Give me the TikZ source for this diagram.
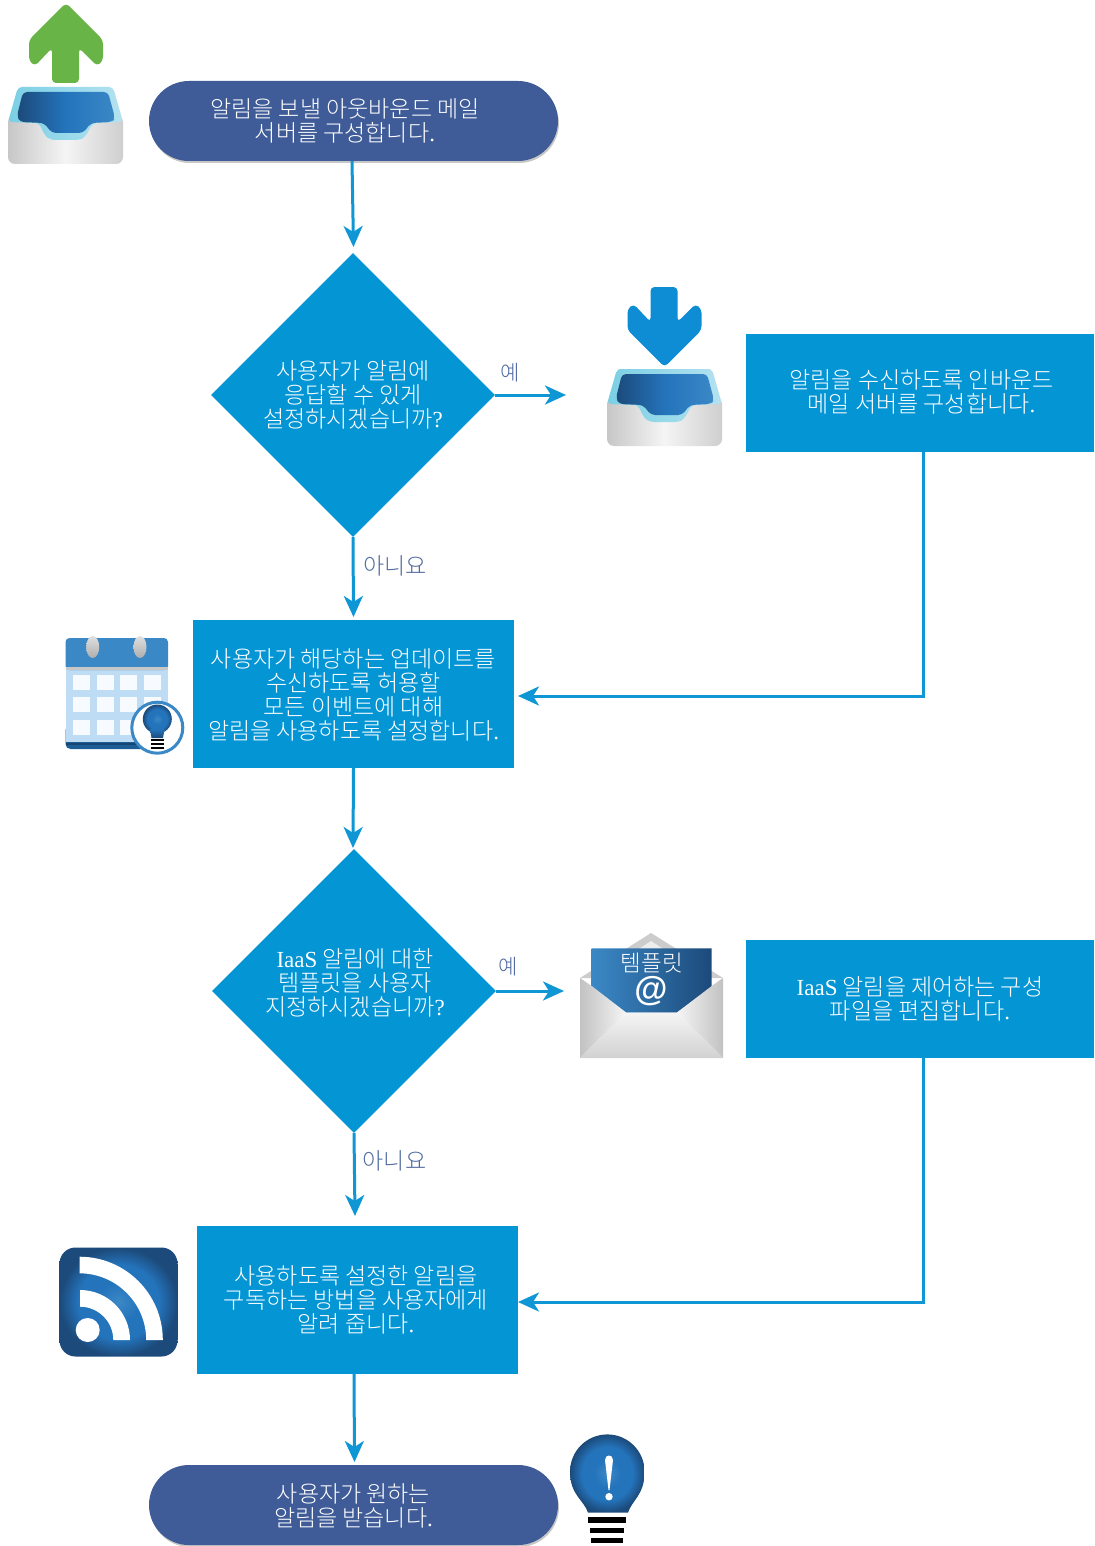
\documentclass[tikz,border=0pt]{standalone}
\usepackage{fontspec}
\setmainfont{Noto Sans CJK KR Light}
\newfontfamily\lat{Liberation Serif}
\newfontfamily\lats{Liberation Sans}
\usetikzlibrary{arrows.meta,shapes.geometric}
\definecolor{boxc}{HTML}{0495D5}
\definecolor{pillc}{HTML}{3F5C98}
\definecolor{linec}{HTML}{0F97D5}
\definecolor{labc}{HTML}{4F6AA0}
\definecolor{bluea}{HTML}{1C4A7A}
\definecolor{blueb}{HTML}{2474BC}
\definecolor{bluec}{HTML}{3B88C6}
\definecolor{cyana}{HTML}{7ACFE4}
\definecolor{cyanb}{HTML}{B4E2F0}
\definecolor{greena}{HTML}{68B446}
\definecolor{downa}{HTML}{0E8CD4}
\definecolor{cellc}{HTML}{F7FBFF}
\definecolor{calc}{HTML}{BEDCF3}
\pgfdeclareradialshading{glow}{\pgfpoint{0bp}{0bp}}{color(0bp)=(bluec);color(9bp)=(blueb);color(17bp)=(blueb);color(25bp)=(bluea);color(50bp)=(bluea)}
\newcommand{\La}[1]{{\lat #1}}
\tikzset{
 x=1pt,y=-1pt,
 txt/.style={text=white,align=center,font=\fontsize{23}{24}\selectfont,inner sep=0pt},
 boxn/.style={txt,fill=boxc,minimum width=#1,minimum height=118pt},
 pilln/.style={txt,fill=pillc,rounded corners=40pt,minimum width=409pt,minimum height=80pt},
 dia/.style={txt,diamond,aspect=1,fill=boxc,minimum width=284pt,minimum height=284pt},
 lab/.style={text=labc,font=\fontsize{23}{24}\selectfont,inner sep=0pt},
 laby/.style={text=labc,font=\fontsize{21}{24}\selectfont,inner sep=0pt},
 conn/.style={draw=linec,line width=3pt,-{Stealth[length=21pt,width=19pt,inset=6pt]}},
 pillshadow/.style={fill=black,opacity=0.22,rounded corners=40pt},
 inbox/.pic={
  \shade[rounded corners=7pt,left color=black!22,right color=black!19,middle color=white!96!black] (8,115)--(123,115)--(123,164)--(8,164)--cycle;
  \shade[left color=cyana,right color=cyanb,rounded corners=4pt] (23,87)--(108,87)--(113,87)--(123,122)--(93,123)--(85,137)--(80,140)--(51,140)--(45,136)--(39,123)--(8,122)--(18,87)--cycle;
  \shade[left color=bluea,right color=bluec,middle color=blueb,rounded corners=4pt] (23,92)--(108,92)--(115,118)--(112,122)--(91,123)--(83,133)--(52,133)--(44,123)--(20,122)--(17,116)--cycle;
 },
}
\begin{document}
\begin{tikzpicture}
\useasboundingbox (0,0) rectangle (1094,1546);
\fill[white] (0,0) rectangle (1094,1546);
% nodes
\fill[pillshadow] (150,84) rectangle (559,163);
\node[pilln] (p1) at (353.5,121) {};
\node[txt] (p1t) at (345,120.5) {알림을 보낼 아웃바운드 메일\\서버를 구성합니다\La{.}};
\node[dia] (d1) at (353,395) {사용자가 알림에\\응답할 수 있게\\설정하시겠습니까\La{?}};
\node[boxn=348pt] (b1) at (920,393) {};
\node[txt] (b1t) at (921.5,392) {알림을 수신하도록 인바운드\\메일 서버를 구성합니다\La{.}};
\node[boxn=321pt,minimum height=148pt] (b2) at (353.5,694) {};
\node[txt] (b2t) at (353.5,695) {사용자가 해당하는 업데이트를\\수신하도록 허용할\\모든 이벤트에 대해\\알림을 사용하도록 설정합니다\La{.}};
\node[dia] (d2) at (354,991) {};
\node[txt] (d2t) at (355,982.5) {\La{IaaS} 알림에 대한\\템플릿을 사용자\\지정하시겠습니까\La{?}};
\node[boxn=348pt] (b3) at (920,999) {\La{IaaS} 알림을 제어하는 구성\\파일을 편집합니다\La{.}};
\node[boxn=321pt,minimum height=148pt] (b4) at (357.5,1300) {};
\node[txt] (b4t) at (356,1300) {사용하도록 설정한 알림을\\구독하는 방법을 사용자에게\\알려 줍니다\La{.}};
\fill[pillshadow] (150,1468) rectangle (559,1547);
\node[pilln] (p2) at (353.5,1505) {};
\node[txt] (p2t) at (353.5,1506) {사용자가 원하는\\알림을 받습니다\La{.}};
% free ends
\coordinate (e1) at (566,395);
\coordinate (e2) at (564,991);
\coordinate (j1) at (923,696);
\coordinate (j2) at (923,1302);
\coordinate (t1) at (353.5,247);
\coordinate (t2) at (353.5,617);
\coordinate (t3) at (353,848);
\coordinate (t4) at (355,1216);
\coordinate (t5) at (354.5,1462);
\coordinate (h1) at (518,696);
\coordinate (h2) at (518,1302);
% connectors
\draw[conn] ([xshift=-1.5pt]p1.south) -- (t1);
\draw[conn] (d1.south) -- (t2);
\draw[conn] (d1.east) -- (e1);
\draw[conn] (b1.south -| j1) -- (j1) -- (h1);
\draw[conn] (b2.south) -- (t3);
\draw[conn] (d2.east) -- (e2);
\draw[conn] (d2.south) -- (t4);
\draw[conn] (b3.south -| j2) -- (j2) -- (h2);
\draw[conn] ([xshift=-3.5pt]b4.south) -- (t5);
% labels
\node[laby] (l1) at (510,372.5) {예};
\node[lab] (l2) at (395,565.5) {아니요};
\node[laby] (l3) at (508.5,966.5) {예};
\node[lab] (l4) at (394.5,1160.5) {아니요};
% outbox icon
\pic at (0,0) {inbox};
\fill[fill=greena,rounded corners=4pt] (66,3)--(103,40)--(103,61)--(97,66)--(79,48)--(79,83)--(52,83)--(52,48)--(35,66)--(29,61)--(29,40)--cycle;
% inbox icon
\pic at (599,282) {inbox};
\fill[fill=downa,rounded corners=4pt] (664.5,367)--(701.5,330)--(701.5,309)--(695.5,304)--(677.5,322)--(677.5,287)--(650.5,287)--(650.5,322)--(633.5,304)--(627.5,309)--(627.5,330)--cycle;
% calendar
\fill[fill=blueb!80!black,rounded corners=5pt] (65.5,725) rectangle (168,749);
\fill[fill=blueb!60!black] (65.5,743) rectangle (168,745);
\fill[fill=calc] (65.5,668) rectangle (168,742);
\fill[bluec,rounded corners=4pt] (65.5,670) -- (65.5,638) -- (168,638) -- (168,670) -- cycle;
\fill[black!22] (65.5,667) rectangle (168,670);
\foreach \x in {92.7,140}{\shade[top color=black!12,bottom color=black!32] (\x,647) ellipse (6.5 and 11);}
\foreach \xa/\xb in {72.7/90,96.7/114,120/137,144/161}{
 \foreach \ya/\yb in {675/690,697/712,720/735}{\fill[cellc] (\xa,\ya) rectangle (\xb,\yb);}}
\fill[white,draw=bluec,line width=3pt] (157.3,727.7) circle (25.5);
\shade[shading=glow] (157.3,719) circle (14.5);
\shade[top color=blueb,bottom color=bluea] (150,729) -- (164.6,729) -- (163,738) -- (151.5,738) -- cycle;
\foreach \y in {738.5,742.5,746.5}{\fill[black] (150.5,\y) rectangle (164,\y+2.5);}
% envelope
\fill[black!20] (651,933) -- (723,978) -- (580,978) -- cycle;
\fill[black!7] (651,941) -- (708,978) -- (595,978) -- cycle;
\shade[left color=bluec,right color=bluea] (591.7,948.3) -- (711.7,948.3) -- (711.7,986.7) -- (677,1012.5) -- (626,1012.5) -- (591.7,986.7) -- cycle;
\shade[left color=black!24,right color=black!4] (580,978) -- (591.7,986) -- (626,1012.5) -- (580,1058) -- cycle;
\shade[left color=black!4,right color=black!24] (723,978) -- (711.7,986) -- (677,1012.5) -- (723,1058) -- cycle;
\shade[top color=white!96!black,bottom color=black!18] (626,1012.5) -- (677,1012.5) -- (723,1058) -- (580,1058) -- cycle;
\node[txt,font=\fontsize{22.5}{24}\selectfont] (ic1) at (652,963.5) {템플릿};
\node[text=white,inner sep=0pt,font=\fontsize{34}{34}\selectfont] (ic2) at (651,991) {\lats\bfseries @};
% rss
\shade[shading=glow,rounded corners=16pt] (59.5,1247.5) rectangle (177.5,1356.5);
\fill[white] (79.5,1256.7) arc[start angle=90,end angle=0,x radius=83.3,y radius=-83.3] -- (146.2,1340) arc[start angle=0,end angle=90,x radius=66.7,y radius=-66.7] -- cycle;
\fill[white] (80,1290) arc[start angle=90,end angle=0,x radius=50,y radius=-50] -- (113.3,1340) arc[start angle=0,end angle=90,x radius=33.3,y radius=-33.3] -- cycle;
\fill[white] (87.7,1330) circle (12);
% bulb
\shade[shading=glow] (588,1512.7) .. controls (584,1500) and (570,1495) .. (570,1471.7) arc[start angle=180,end angle=0,x radius=37.3,y radius=-37.3] .. controls (644.6,1495) and (632,1500) .. (628,1512.7) -- cycle;
\fill[black] (588.3,1517.3) rectangle (625.7,1523.3);
\fill[black] (590,1527.7) rectangle (624,1533.3);
\fill[black] (591,1537.7) rectangle (623,1543.3);
\fill[white] (605,1460) .. controls (605,1454) and (613,1454) .. (613,1460) -- (609.5,1490) -- (608.5,1490) -- cycle;
\fill[white] (609,1496.7) circle (3.7);
\end{tikzpicture}
\end{document}
